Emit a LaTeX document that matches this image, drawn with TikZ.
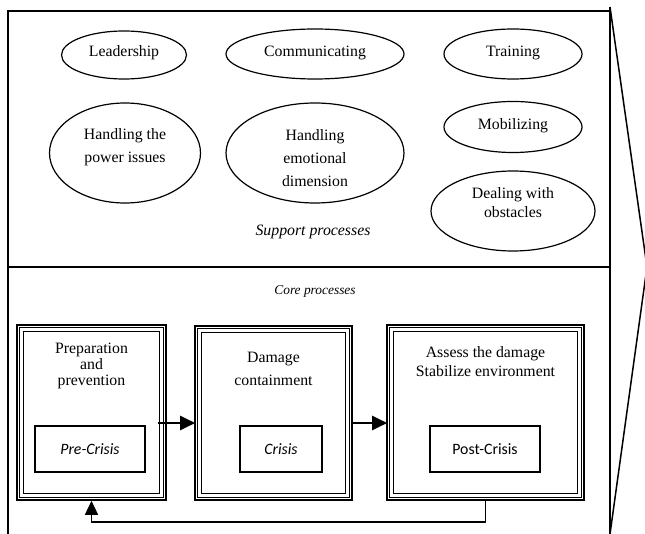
\documentclass[tikz,border=0pt]{standalone}
\usepackage{fontspec}
\setmainfont{Liberation Serif}
\newfontfamily\calibri{Carlito}
\usetikzlibrary{shapes.geometric,arrows.meta,calc}
\tikzset{
  frame/.style={line width=1.5pt},
  oval/.style={draw, ellipse, line width=1.2pt, inner sep=0pt},
  txt/.style={align=center, font=\fontsize{15.8}{23}\selectfont, inner sep=0pt},
  outerbox/.style={draw, line width=1.6pt, inner sep=0pt},
  smallbox/.style={draw, line width=1.3pt, inner sep=0pt, minimum width=110pt, minimum height=46pt, font=\calibri\fontsize{15.8}{18}\selectfont},
  flow/.style={line width=2pt, -{Triangle[length=15pt,width=14pt]}},
  back/.style={line width=1.5pt, -{Triangle[length=14pt,width=13pt]}}
}
\newcommand{\tripleframe}[1]{%
  \draw[line width=0.8pt] ([shift={(3.6,3.6)}]#1.north west) rectangle ([shift={(-3.6,-3.6)}]#1.south east);
  \draw[line width=1.6pt] ([shift={(7.2,7.2)}]#1.north west) rectangle ([shift={(-7.2,-7.2)}]#1.south east);
}
\begin{document}
\begin{tikzpicture}[x=1pt,y=-1pt]
\useasboundingbox (0,0) rectangle (645,534);

% outer frame
\coordinate (tl) at (8,11);
\coordinate (tr) at (610,11);
\coordinate (bl) at (8,534);
\coordinate (br) at (610,534);
\coordinate (rtop) at (610,7);
\coordinate (apex) at (647,267);
\coordinate (dl) at (8,267);
\coordinate (dr) at (610,267);
\draw[frame] (bl) -- (tl) -- (tr);
\draw[frame] (rtop) -- (br);
\draw[frame] (dl) -- (dr);
\draw[frame] (rtop) -- (apex) -- (br);

% support processes
\node[oval, minimum width=125pt, minimum height=48pt] (lead) at (124,55) {};
\node[txt] (leadt) at (124,53) {Leadership};
\node[oval, minimum width=178pt, minimum height=50pt] (comm) at (315,54) {};
\node[txt] (commt) at (315,53) {Communicating};
\node[oval, minimum width=138pt, minimum height=50pt] (train) at (513,54) {};
\node[txt] (traint) at (513,53) {Training};
\node[oval, minimum width=151pt, minimum height=100pt] (power) at (125,153) {};
\node[txt] (powert) at (125,147) {Handling the\\power issues};
\node[oval, minimum width=178pt, minimum height=100pt] (emot) at (315,153) {};
\node[txt] (emott) at (315,158) {Handling\\emotional\\dimension};
\node[oval, minimum width=138pt, minimum height=51pt] (mob) at (513,127) {};
\node[txt] (mobt) at (513,126) {Mobilizing};
\node[oval, minimum width=164pt, minimum height=80pt] (deal) at (513,211) {};
\node[txt, font=\fontsize{15.8}{19}\selectfont] (dealt) at (513,203) {Dealing with\\obstacles};
\node[txt, font=\itshape\fontsize{15.8}{19}\selectfont] (support) at (313,232) {Support processes};

% core processes
\node[txt, font=\itshape\fontsize{13.4}{16}\selectfont] (core) at (315,291) {Core processes};

\node[outerbox, minimum width=149pt, minimum height=175pt] (box1) at (91.5,412.5) {};
\tripleframe{box1}
\node[outerbox, minimum width=157pt, minimum height=174pt] (box2) at (273.5,413) {};
\tripleframe{box2}
\node[outerbox, minimum width=197pt, minimum height=175pt] (box3) at (485.5,412.5) {};
\tripleframe{box3}

\node[txt, font=\fontsize{15.8}{16}\selectfont] (prep) at (91.5,366) {Preparation\\and\\prevention};
\node[txt] (dam) at (273.5,368.5) {Damage\\containment};
\node[txt, font=\fontsize{15.8}{19}\selectfont] (assess) at (485.5,361.5) {Assess the damage\\Stabilize environment};

\node[smallbox] (pre) at (90,449) {\itshape Pre-Crisis};
\node[smallbox, minimum width=82pt] (cri) at (281,449) {\itshape Crisis};
\node[smallbox] (post) at (485,449) {Post-Crisis};

% arrows
\draw[flow] ($(box1.east)+(-9,10.5)$) -- ($(box2.west)+(1,10)$);
\draw[flow] ($(box2.east)+(-1,10)$) -- ($(box3.west)+(1,10.5)$);
\draw[back] (box3.south) -- ++(0,21) -| (box1.south);
\end{tikzpicture}
\end{document}
